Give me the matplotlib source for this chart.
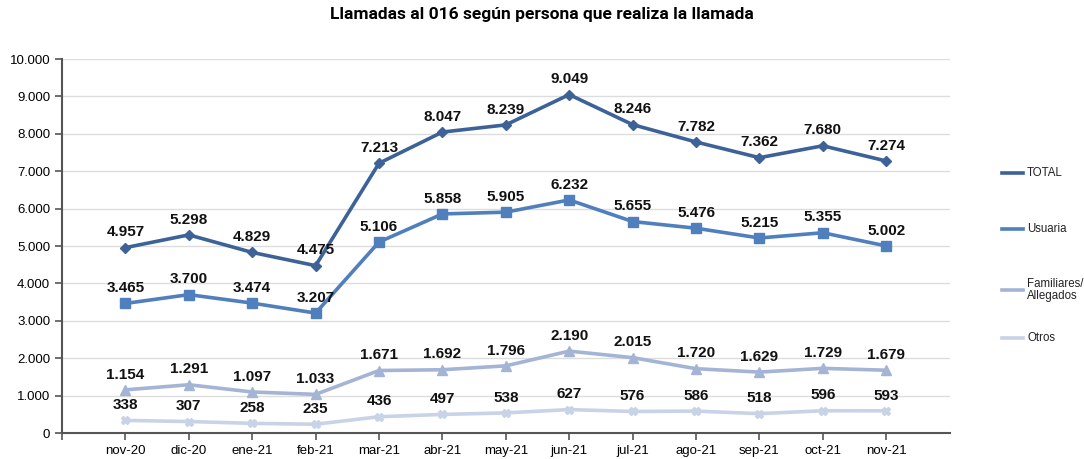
import matplotlib.pyplot as plt
from matplotlib.lines import Line2D
from matplotlib.ticker import FuncFormatter

plt.rcParams['font.family'] = ['Liberation Sans', 'DejaVu Sans']

# data
meses = ['nov-20', 'dic-20', 'ene-21', 'feb-21', 'mar-21', 'abr-21', 'may-21',
         'jun-21', 'jul-21', 'ago-21', 'sep-21', 'oct-21', 'nov-21']
total = [4957, 5298, 4829, 4475, 7213, 8047, 8239, 9049, 8246, 7782, 7362, 7680, 7274]
usuaria = [3465, 3700, 3474, 3207, 5106, 5858, 5905, 6232, 5655, 5476, 5215, 5355, 5002]
familiares = [1154, 1291, 1097, 1033, 1671, 1692, 1796, 2190, 2015, 1720, 1629, 1729, 1679]
otros = [338, 307, 258, 235, 436, 497, 538, 627, 576, 586, 518, 596, 593]


def miles(v, pos=None):
    return f'{int(v):,}'.replace(',', '.')


W, H = 1084, 459
fig = plt.figure(figsize=(W / 100, H / 100), dpi=100)
ax = fig.add_axes([0.0572, 0.0566, 0.8188, 0.8148])

x = list(range(len(meses)))
series = [
    (total, 'TOTAL', '#3d6298', 'D', 5),
    (usuaria, 'Usuaria', '#4f7fbd', 's', 7),
    (familiares, 'Familiares/\nAllegados', '#a4b4d4', '^', 7),
    (otros, 'Otros', '#c9d3e7', 'X', 6),
]
for vals, name, col, mk, ms in series:
    ax.plot(x, vals, color=col, lw=2.6, marker=mk, markersize=ms)
    for xi, v in zip(x, vals):
        ax.annotate(miles(v), (xi, v), xytext=(0, 6), textcoords='offset points',
                    ha='center', va='bottom', fontsize=11, fontweight='bold',
                    color='#111111')

ax.set_xlim(-1, 13)
ax.set_ylim(0, 10000)
ax.set_yticks(range(0, 10001, 1000))
ax.yaxis.set_major_formatter(FuncFormatter(miles))
ax.set_xticks([-1] + x)
ax.set_xticklabels([''] + meses)
ax.grid(axis='y', color='#dddddd', lw=1)
ax.set_axisbelow(True)
for s in ['top', 'right']:
    ax.spines[s].set_visible(False)
ax.spines['left'].set_color('#555555')
ax.spines['bottom'].set_color('#555555')
ax.spines['left'].set_linewidth(1.5)
ax.spines['bottom'].set_linewidth(1.5)
ax.tick_params(axis='both', labelsize=9.5, color='#555555', length=5, width=1.2)

# legend drawn by hand, pixel rows
leg_y = [173, 229, 290, 338]
for (vals, name, col, mk, ms), yy in zip(series, leg_y):
    fy = 1 - yy / H
    fig.add_artist(Line2D([1002 / W, 1023 / W], [fy, fy], color=col, lw=2.6,
                          transform=fig.transFigure))
    fig.text(1027 / W, fy, name, fontsize=8.3, va='center', ha='left',
             color='#222222', linespacing=1.05)

fig.suptitle('Llamadas al 016 según persona que realiza la llamada',
             fontsize=12.5, fontweight='bold', y=0.985, family='Roboto')

plt.savefig('out.png', dpi=100)
